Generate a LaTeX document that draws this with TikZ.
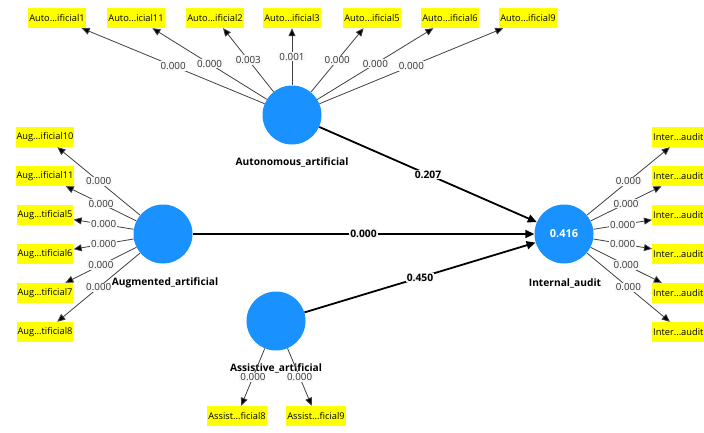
\documentclass[tikz,border=0pt]{standalone}
\usepackage{fontspec}
\setmainfont{Open Sans}
\usetikzlibrary{arrows.meta}
\definecolor{lvblue}{RGB}{25,145,255}
\definecolor{indyellow}{RGB}{255,255,0}
\definecolor{lblbg}{RGB}{248,248,248}
\tikzset{
  latent/.style={circle,fill=lvblue,draw=none,minimum size=59pt,inner sep=0pt,text=white,font=\fontsize{11}{12}\selectfont\bfseries},
  lvname/.style={font=\fontsize{10.2}{11}\selectfont\bfseries,inner sep=0pt},
  indbox/.style={fill=indyellow,draw=none,font=\fontsize{9.3}{10}\selectfont,inner xsep=1pt,inner ysep=0pt,minimum height=20pt},
  rbox/.style={indbox,text width=58pt,align=left},
  inarrow/.style={draw=black!75,line width=0.8pt,-{Triangle[length=8pt,width=7pt,fill=black]}},
  patharrow/.style={draw=black,line width=1.8pt,-{Triangle[length=9pt,width=8pt]}},
  wlbl/.style={fill=lblbg,inner sep=1pt,font=\fontsize{9.8}{10}\selectfont,text=black!80},
  plbl/.style={fill=lblbg,inner sep=1pt,font=\fontsize{10.3}{11}\selectfont\bfseries},
}
\begin{document}
\begin{tikzpicture}[x=1pt,y=-1pt]
\useasboundingbox (0,0) rectangle (704,432);
% latent names
\node[lvname] (nAut) at (292,162) {Autonomous\_artificial};
\node[lvname] (nAug) at (165,283) {Augmented\_artificial};
\node[lvname] (nInt) at (565,283) {Internal\_audit};
\node[lvname] (nAss) at (276,368) {Assistive\_artificial};
% latent circles
\node[latent] (aut) at (292,115) {};
\node[latent] (aug) at (163,234) {};
\node[latent] (ia) at (564,234) {0.416};
\node[latent] (ass) at (276,321) {};
% top indicators
\node[indbox] (a1) at (57,18) {Auto...ificial1};
\node[indbox] (a11) at (136,18) {Auto...icial11};
\node[indbox] (a2) at (215,18) {Auto...ificial2};
\node[indbox] (a3) at (292,18) {Auto...ificial3};
\node[indbox] (a5) at (372,18) {Auto...ificial5};
\node[indbox] (a6) at (450,18) {Auto...ificial6};
\node[indbox] (a9) at (528,18) {Auto...ificial9};
% left indicators
\node[indbox] (g10) at (45,137) {Aug...ificial10};
\node[indbox] (g11) at (45,176) {Aug...ificial11};
\node[indbox] (g5) at (45,215) {Aug...tificial5};
\node[indbox] (g6) at (45,254) {Aug...tificial6};
\node[indbox] (g7) at (45,293) {Aug...tificial7};
\node[indbox] (g8) at (45,332) {Aug...tificial8};
% right indicators
\node[rbox,anchor=west] (i1) at (652,137) {Inter...audit};
\node[rbox,anchor=west] (i2) at (652,176) {Inter...audit};
\node[rbox,anchor=west] (i3) at (652,215) {Inter...audit};
\node[rbox,anchor=west] (i4) at (652,254) {Inter...audit};
\node[rbox,anchor=west] (i5) at (652,293) {Inter...audit};
\node[rbox,anchor=west] (i6) at (652,332) {Inter...audit};
% bottom indicators
\node[indbox] (s8) at (237,416) {Assist...ficial8};
\node[indbox] (s9) at (316,416) {Assist...ficial9};
% indicator arrows
\draw[inarrow] (aut) -- node[wlbl] {0.000} (a1);
\draw[inarrow] (aut) -- node[wlbl] {0.000} (a11);
\draw[inarrow] (aut) -- node[wlbl] {0.003} (a2);
\draw[inarrow] (aut) -- node[wlbl] {0.001} (a3);
\draw[inarrow] (aut) -- node[wlbl] {0.000} (a5);
\draw[inarrow] (aut) -- node[wlbl] {0.000} (a6);
\draw[inarrow] (aut) -- node[wlbl] {0.000} (a9);
\draw[inarrow] (aug) -- node[wlbl] {0.000} (g10);
\draw[inarrow] (aug) -- node[wlbl] {0.000} (g11);
\draw[inarrow] (aug) -- node[wlbl] {0.000} (g5);
\draw[inarrow] (aug) -- node[wlbl] {0.000} (g6);
\draw[inarrow] (aug) -- node[wlbl] {0.000} (g7);
\draw[inarrow] (aug) -- node[wlbl] {0.000} (g8);
\draw[inarrow] (ia) -- node[wlbl] {0.000} (i1);
\draw[inarrow] (ia) -- node[wlbl] {0.000} (i2);
\draw[inarrow] (ia) -- node[wlbl] {0.000} (i3);
\draw[inarrow] (ia) -- node[wlbl] {0.000} (i4);
\draw[inarrow] (ia) -- node[wlbl] {0.000} (i5);
\draw[inarrow] (ia) -- node[wlbl] {0.000} (i6);
\draw[inarrow] (ass) -- node[wlbl] {0.000} (s8);
\draw[inarrow] (ass) -- node[wlbl] {0.000} (s9);
% structural paths
\draw[patharrow] (aut) -- node[plbl] {0.207} (ia);
\draw[patharrow] (aug) -- node[plbl] {0.000} (ia);
\draw[patharrow] (ass) -- node[plbl] {0.450} (ia);
\end{tikzpicture}
\end{document}
